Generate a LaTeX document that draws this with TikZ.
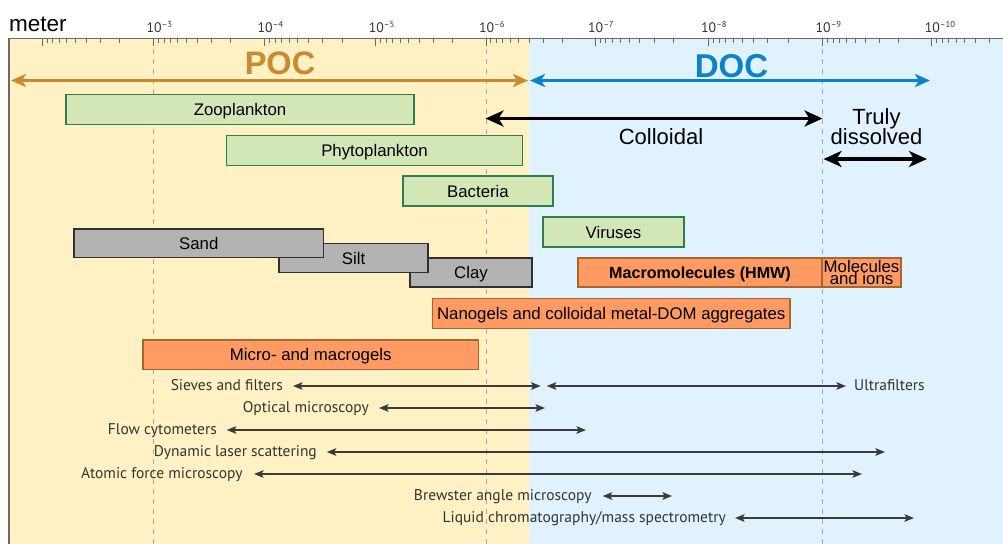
\documentclass[tikz,border=0pt]{standalone}
\usepackage{fontspec}
\setmainfont{Liberation Sans}
\newfontfamily\ptsans{PT Sans}
\usetikzlibrary{arrows.meta}
\definecolor{bgY}{HTML}{FFF1C4}
\definecolor{bgB}{HTML}{E0F2FD}
\definecolor{pocc}{HTML}{CC8A2E}
\definecolor{docc}{HTML}{0B83C9}
\definecolor{gfill}{HTML}{D3E6B5}
\definecolor{gdraw}{HTML}{2E7F50}
\definecolor{kfill}{HTML}{B3B3B3}
\definecolor{kdraw}{HTML}{303030}
\definecolor{ofill}{HTML}{FE9A62}
\definecolor{odraw}{HTML}{A5672F}
\definecolor{tickc}{HTML}{6A6A6A}
\definecolor{dashc}{HTML}{A8A8A8}
\definecolor{arrc}{HTML}{3A3A3A}
\begin{document}
\begin{tikzpicture}[x=1pt,y=-1pt,
  boxbase/.style={draw, line width=1.8pt, inner sep=0pt, outer sep=0pt, anchor=north west,
    font=\fontsize{16.8}{16.8}\selectfont},
  txt/.style={text height=12pt, text depth=0pt},
  gbox/.style={boxbase, txt, fill=gfill, draw=gdraw},
  kbox/.style={boxbase, txt, fill=kfill, draw=kdraw},
  obox/.style={boxbase, fill=ofill, draw=odraw},
  dashline/.style={dashc, line width=0.9pt, dash pattern=on 5pt off 5pt},
  axisline/.style={tickc, line width=1.2pt},
  tickmark/.style={tickc, line width=1pt},
  ticklab/.style={anchor=base west, inner sep=0pt, font=\ptsans\fontsize{13.8}{13.8}\selectfont, text=black!80},
  bigarrow/.style={line width=3.6pt, >={Stealth[length=15pt,width=13pt,inset=4pt]}, <->},
  blackarrow/.style={black, line width=3.4pt, >={Stealth[length=18pt,width=16pt,inset=5pt]}, <->},
  method/.style={anchor=base east, inner sep=0pt, font=\ptsans\fontsize{15.5}{15.5}\selectfont, text=black!80},
  methodarrow/.style={arrc, line width=2pt, >={Stealth[length=9.5pt,width=7.5pt,inset=2pt]}, <->}
]
\useasboundingbox (0,0) rectangle (1003,544);
\begin{scope}
\clip (0,0) rectangle (1003,544);
% backgrounds
\fill[bgY] (9,38.5) rectangle (528.5,544);
\fill[bgB] (528.5,38.5) rectangle (1003,544);
% dashed guide lines
\foreach \xx in {153.3,486,822.5} \draw[dashline] (\xx,39) -- (\xx,544);
% axis
\draw[axisline] (9,544) -- (9,38.5) -- (1003,38.5);
\foreach \xa/\xb in {42/153.3, 153.3/264.3, 264.3/375.7, 375.7/486, 486/595, 595/708, 708/822.5, 822.5/931.7, 931.7/1042}{
  \draw[tickmark] (\xa,38.5) -- (\xa,45.5);
  \foreach \m in {2,...,9}{
    \pgfmathsetmacro\xm{\xb-(\xb-\xa)*log10(\m)}
    \draw[tickmark] (\xm,38.5) -- (\xm,42.5);
  }
}
\end{scope}
% axis labels
\node[anchor=base west, inner sep=0pt, font=\fontsize{22.5}{22.5}\selectfont] (meter) at (9,31.5) {meter};
\foreach \xx/\e in {153.3/3, 264.3/4, 375.7/5, 486/6, 595/7, 708/8, 822.5/9, 931.7/10}
  \node[ticklab] (lab\e) at (\xx-7,32.3) {10\raisebox{5pt}{\fontsize{8.7}{8.7}\selectfont –\e}};

% POC / DOC
\node[anchor=base, inner sep=0pt, text=pocc, font=\bfseries\fontsize{32.5}{32.5}\selectfont] (poc) at (280,74) {POC};
\node[anchor=base, inner sep=0pt, text=docc, font=\bfseries\fontsize{33}{33}\selectfont] (doc) at (731.5,77) {DOC};
\coordinate (pocL) at (11,80.5);
\coordinate (pocR) at (528,80.5);
\coordinate (docL) at (530,80.5);
\coordinate (docR) at (930,80.5);
\draw[bigarrow, pocc] (pocL) -- (pocR);
\draw[bigarrow, docc] (docL) -- (docR);

% colloidal / truly dissolved
\coordinate (colL) at (485.5,118.5);
\coordinate (colR) at (822.5,118.5);
\draw[blackarrow] (colL) -- (colR);
\node[anchor=base, inner sep=0pt, font=\fontsize{22}{22}\selectfont] (colloidal) at (661,144) {Colloidal};
\node[anchor=base, inner sep=0pt, font=\fontsize{22}{22}\selectfont] (truly) at (876.5,124.5) {Truly};
\node[anchor=base, inner sep=0pt, font=\fontsize{22}{22}\selectfont] (dissolved) at (876.5,144) {dissolved};
\coordinate (trL) at (823.5,159);
\coordinate (trR) at (927,159);
\draw[blackarrow] (trL) -- (trR);

% organisms
\node[gbox, minimum width=348pt, minimum height=30pt] (zoo) at (66,94.5) {Zooplankton};
\node[gbox, minimum width=296pt, minimum height=30pt] (phyto) at (226.5,135.5) {Phytoplankton};
\node[gbox, minimum width=150pt, minimum height=30pt] (bact) at (403,176) {Bacteria};
\node[gbox, minimum width=141pt, minimum height=30pt] (vir) at (543,217) {Viruses};

% minerals
\node[kbox, minimum width=122pt, minimum height=29pt] (clay) at (410,258) {Clay};
\node[kbox, minimum width=149pt, minimum height=29pt] (silt) at (279,243.5) {Silt};
\node[kbox, minimum width=249.5pt, minimum height=28.5pt] (sand) at (74,229) {Sand};

% organic matter
\node[obox, txt, minimum width=244pt, minimum height=29pt, font=\bfseries\fontsize{16.1}{16.1}\selectfont] (macro) at (578,258) {Macromolecules (HMW)};
\node[obox, minimum width=79pt, minimum height=29pt, align=center, font=\fontsize{16.8}{12.4}\selectfont] (mol) at (822,258) {Molecules\\and ions};
\node[obox, txt, minimum width=357.5pt, minimum height=30pt] (nano) at (432.5,298.5) {Nanogels and colloidal metal-DOM aggregates};
\node[obox, txt, minimum width=335.5pt, minimum height=29.5pt] (micro) at (143,340) {Micro- and macrogels};

% methods
\node[method] (sieves) at (283,390.7) {Sieves and filters};
\node[anchor=base west, inner sep=0pt, font=\ptsans\fontsize{15.5}{15.5}\selectfont, text=black!80] (ultra) at (854,390.7) {Ultrafilters};
\node[method] (optical) at (369,412.7) {Optical microscopy};
\node[method] (flow) at (217,434.7) {Flow cytometers};
\node[method] (dls) at (317,456.7) {Dynamic laser scattering};
\node[method] (afm) at (242.7,478.7) {Atomic force microscopy};
\node[method] (bam) at (591.7,500.7) {Brewster angle microscopy};
\node[method] (lcms) at (726,522.7) {Liquid chromatography/mass spectrometry};

\coordinate (s1) at (293,386); \coordinate (s2) at (540.7,386);
\coordinate (u1) at (546.7,386); \coordinate (u2) at (846,386);
\coordinate (o1) at (379,408); \coordinate (o2) at (545,408);
\coordinate (f1) at (226.7,430); \coordinate (f2) at (586,430);
\coordinate (d1) at (326.7,452); \coordinate (d2) at (885,452);
\coordinate (a1) at (254,474); \coordinate (a2) at (862,474);
\coordinate (b1) at (602.7,496); \coordinate (b2) at (672,496);
\coordinate (l1) at (735,518); \coordinate (l2) at (914,518);
\draw[methodarrow] (s1) -- (s2);
\draw[methodarrow] (u1) -- (u2);
\draw[methodarrow] (o1) -- (o2);
\draw[methodarrow] (f1) -- (f2);
\draw[methodarrow] (d1) -- (d2);
\draw[methodarrow] (a1) -- (a2);
\draw[methodarrow] (b1) -- (b2);
\draw[methodarrow] (l1) -- (l2);
\end{tikzpicture}
\end{document}
